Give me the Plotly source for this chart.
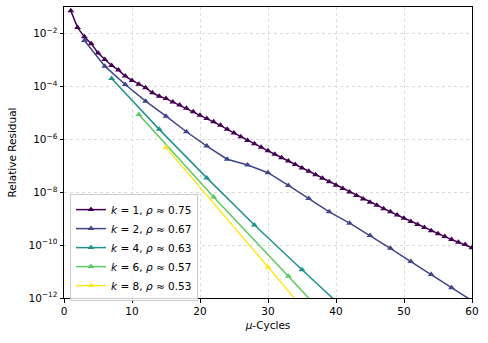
import plotly.graph_objects as go

# ---- data ----
x_k1 = list(range(1, 61))
res_k1 = [7.4e-2, 1.7e-2, 7.6e-3, 4.2e-3, 1.86e-3, 1.05e-3, 6.3e-4, 4.2e-4, 2.5e-4, 1.7e-4,
          1.23e-4, 9.1e-5, 5.8e-5, 4.3e-5, 3.5e-5, 2.6e-5, 2.0e-5, 1.5e-5, 1.12e-5, 8.3e-6,
          6.2e-6, 4.7e-6, 3.4e-6, 2.4e-6, 1.74e-6, 1.26e-6, 9.1e-7, 6.8e-7, 5.0e-7, 3.7e-7,
          2.75e-7, 2.04e-7, 1.51e-7, 1.12e-7, 8.3e-8, 6.2e-8, 4.6e-8, 3.4e-8, 2.5e-8, 1.86e-8,
          1.38e-8, 1.02e-8, 7.6e-9, 5.6e-9, 4.2e-9, 3.2e-9, 2.4e-9, 1.82e-9, 1.38e-9, 1.05e-9,
          7.9e-10, 6.0e-10, 4.6e-10, 3.5e-10, 2.7e-10, 2.1e-10, 1.62e-10, 1.29e-10, 1.05e-10, 8.0e-11]

x_k2 = [3, 6, 9, 12, 15, 18, 21, 24, 27, 30, 33, 36, 39, 42, 45, 48, 51, 54, 57, 60]
res_k2 = [5.5e-3, 5.9e-4, 1.2e-4, 2.8e-5, 7.6e-6, 1.95e-6, 5.6e-7, 1.78e-7, 1.07e-7, 5.5e-8,
          1.82e-8, 5.8e-9, 1.82e-9, 6.8e-10, 2.3e-10, 7.6e-11, 2.4e-11, 7.8e-12, 2.45e-12, 7.9e-13]

x_k4 = [7, 14, 21, 28, 35, 42]
res_k4 = [2.0e-4, 2.4e-6, 3.5e-8, 5.8e-10, 1.17e-11, 2.5e-13]

x_k6 = [11, 22, 33, 44]
res_k6 = [8.7e-6, 6.6e-9, 6.6e-12, 6.0e-15]

x_k8 = [15, 30, 45]
res_k8 = [5.0e-7, 1.5e-11, 4.0e-16]

labels = ["<i>k</i> = 1, <i>ρ</i> ≈ 0.75",
          "<i>k</i> = 2, <i>ρ</i> ≈ 0.67",
          "<i>k</i> = 4, <i>ρ</i> ≈ 0.63",
          "<i>k</i> = 6, <i>ρ</i> ≈ 0.57",
          "<i>k</i> = 8, <i>ρ</i> ≈ 0.53"]
colors = ["#440154", "#414487", "#21918c", "#5ec962", "#fde725"]

x_ticks = [0, 10, 20, 30, 40, 50, 60]
y_tickvals = [1e-2, 1e-4, 1e-6, 1e-8, 1e-10, 1e-12]
y_ticktext = ["10<sup>−2</sup>", "10<sup>−4</sup>", "10<sup>−6</sup>",
              "10<sup>−8</sup>", "10<sup>−10</sup>", "10<sup>−12</sup>"]

series = [(x_k1, res_k1), (x_k2, res_k2), (x_k4, res_k4), (x_k6, res_k6), (x_k8, res_k8)]

fig = go.Figure()
for (xs, ys), lab, col in zip(series, labels, colors):
    fig.add_trace(go.Scatter(
        x=xs, y=ys, mode="lines+markers", name=lab,
        line=dict(color=col, width=1.5),
        marker=dict(symbol="triangle-up", size=6, color=col),
    ))

font = "DejaVu Sans, sans-serif"
fig.update_layout(
    width=488, height=343,
    margin=dict(l=64, r=16, t=7, b=45, autoexpand=False),
    paper_bgcolor="white", plot_bgcolor="white",
    font=dict(family=font, size=10.5, color="black"),
    showlegend=True,
    hovermode=False,
    legend=dict(
        x=0.0147, y=0.357, xanchor="left", yanchor="top",
        bgcolor="rgba(255,255,255,0.8)", bordercolor="#cccccc", borderwidth=1,
        font=dict(family=font, size=10.5, color="black"),
        itemwidth=30, tracegroupgap=0,
    ),
)
fig.update_xaxes(
    range=[0, 60], tickvals=x_ticks, tickfont=dict(size=10.5),
    showline=True, linecolor="black", linewidth=1, mirror=True,
    ticks="outside", ticklen=3.5, tickwidth=0.8, tickcolor="black",
    showgrid=True, gridcolor="#dadada", gridwidth=0.7, griddash="dot",
    zeroline=False,
    title=dict(text="<i>μ</i>-Cycles", font=dict(size=10.5), standoff=5),
)
fig.update_yaxes(
    type="log", range=[-12, -0.99], tickvals=y_tickvals, ticktext=y_ticktext,
    tickfont=dict(size=10.5),
    showline=True, linecolor="black", linewidth=1, mirror=True,
    ticks="outside", ticklen=3.5, tickwidth=0.8, tickcolor="black",
    showgrid=True, gridcolor="#dadada", gridwidth=0.7, griddash="dot",
    zeroline=False,
    title=dict(text="Relative Residual", font=dict(size=10.5), standoff=9),
)

fig.write_html("out.html", config={"displayModeBar": False},
               post_script="document.body.style.margin='0';")
